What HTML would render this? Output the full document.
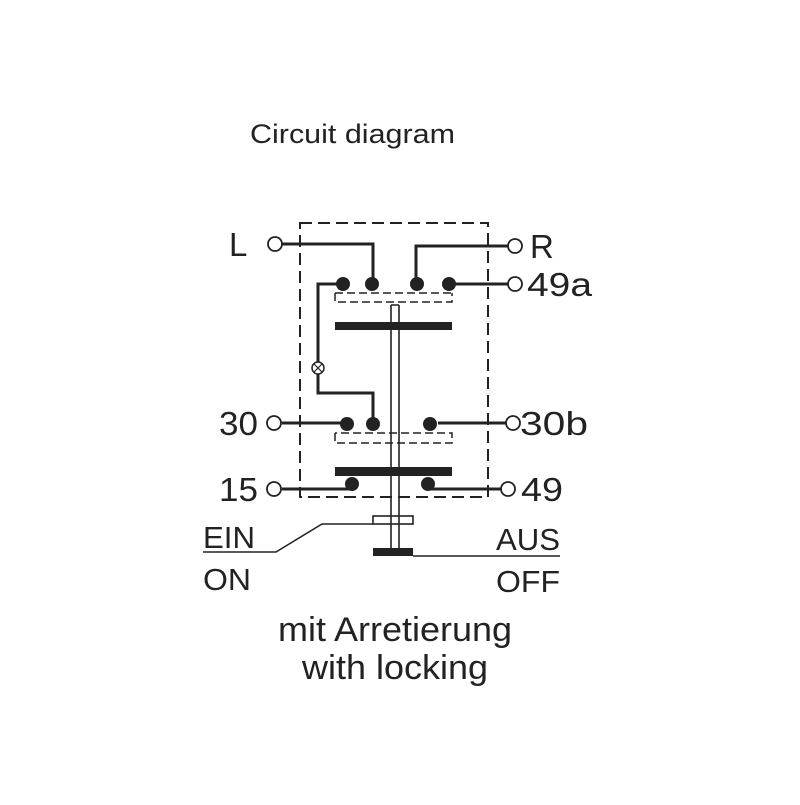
<!DOCTYPE html>
<html><head><style>body{margin:0;background:#fff}svg text{font-family:"Liberation Sans",sans-serif;fill:#222}</style></head><body>
<svg width="800" height="800" viewBox="0 0 800 800" xmlns="http://www.w3.org/2000/svg">
<text x="250" y="143" font-size="27" textLength="205" lengthAdjust="spacingAndGlyphs">Circuit diagram</text>
<g fill="none" stroke="#222">
<path d="M300 223 H488 V497 H300 Z" stroke-width="2" stroke-dasharray="12,6"/>
<path d="M282 244 H373 V283 M508 246 H416 V283 M452 284 H508" stroke-width="3"/>
<path d="M343 284 H318 V362 M318 374 V393 H373 V422" stroke-width="3"/>
<circle cx="318" cy="368" r="6" stroke-width="1.5"/>
<path d="M314 364 L322 372 M322 364 L314 372" stroke-width="1.2"/>
<path d="M335 293 H452 M335 293 V302 H452 V293" stroke-width="1.5" stroke-dasharray="8,4"/>
<path d="M282 423 H347 M438 423 H506 M282 489 H352 M428 489 H501" stroke-width="3"/>
<path d="M335 433 V443 H452 V433 H335" stroke-width="1.5" stroke-dasharray="8,4"/>
<path d="M391 305 V550 M399 305 V550 M391 305 H399" stroke-width="1.6"/>
<rect x="373" y="516" width="40" height="8" stroke-width="1.6"/>
<path d="M373 524 H322 L276 552 H203" stroke-width="1.6"/>
<path d="M413 556 H560" stroke-width="1.6"/>
<g stroke-width="1.8" fill="#fff">
<circle cx="275" cy="244" r="7"/><circle cx="515" cy="246" r="7"/><circle cx="515" cy="284" r="7"/>
<circle cx="274" cy="423" r="7"/><circle cx="513" cy="423" r="7"/><circle cx="274" cy="489" r="7"/><circle cx="508" cy="489" r="7"/>
</g>
</g>
<g fill="#222">
<circle cx="343" cy="284" r="7"/><circle cx="372" cy="284" r="7"/><circle cx="417" cy="284" r="7"/><circle cx="449" cy="284" r="7"/>
<circle cx="347" cy="424" r="7"/><circle cx="373" cy="424" r="7"/><circle cx="430" cy="424" r="7"/>
<circle cx="352" cy="484" r="7"/><circle cx="428" cy="484" r="7"/>
<rect x="335" y="322" width="117" height="8"/>
<rect x="335" y="467" width="117" height="9"/>
<rect x="373" y="548" width="40" height="8"/>
</g>
<g font-size="33">
<text x="229" y="256">L</text>
<text x="530" y="258">R</text>
<text x="527" y="296" textLength="65" lengthAdjust="spacingAndGlyphs">49a</text>
<text x="219" y="435" textLength="39" lengthAdjust="spacingAndGlyphs">30</text>
<text x="520" y="435" textLength="68" lengthAdjust="spacingAndGlyphs">30b</text>
<text x="219" y="501" textLength="39" lengthAdjust="spacingAndGlyphs">15</text>
<text x="521" y="501" textLength="42" lengthAdjust="spacingAndGlyphs">49</text>
<text x="203" y="548" font-size="31" textLength="52" lengthAdjust="spacingAndGlyphs">EIN</text>
<text x="203" y="590" font-size="31" textLength="48" lengthAdjust="spacingAndGlyphs">ON</text>
<text x="496" y="550" font-size="31" textLength="64" lengthAdjust="spacingAndGlyphs">AUS</text>
<text x="496" y="592" font-size="31" textLength="64" lengthAdjust="spacingAndGlyphs">OFF</text>
<text x="278" y="641" font-size="34" textLength="234" lengthAdjust="spacingAndGlyphs">mit Arretierung</text>
<text x="302" y="679" font-size="34" textLength="186" lengthAdjust="spacingAndGlyphs">with locking</text>
</g>
</svg>
</body></html>
